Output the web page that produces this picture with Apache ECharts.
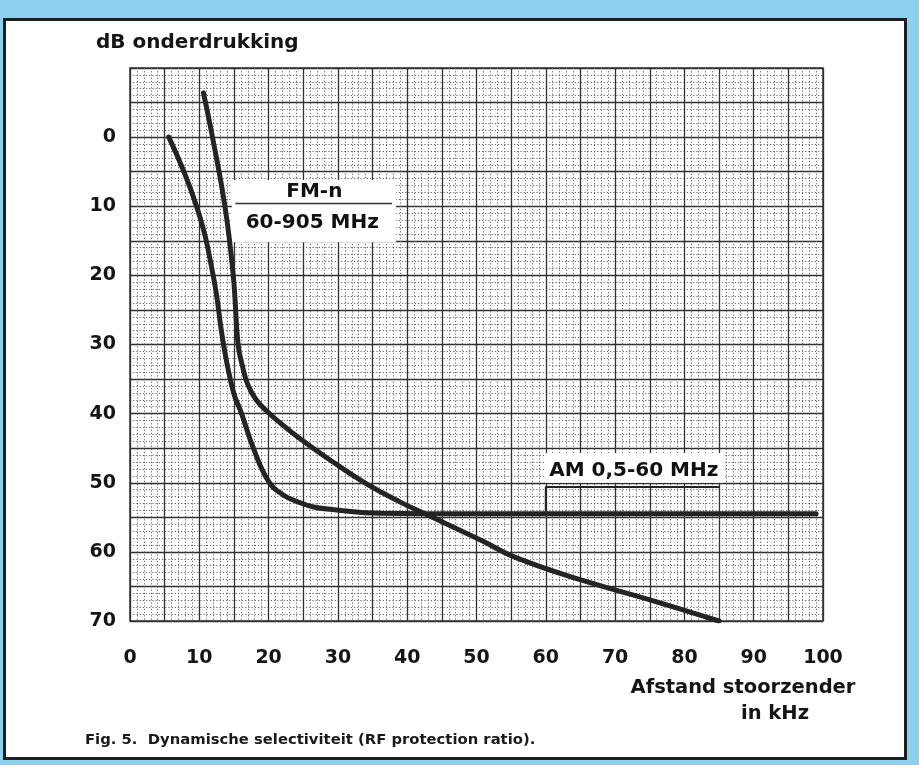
<!DOCTYPE html>
<html>
<head>
<meta charset="utf-8">
<script src="https://cdn.jsdelivr.net/npm/echarts@6/dist/echarts.min.js"></script>
<style>
  html, body { margin: 0; padding: 0; background: #8dd0ee; }
  #panel { position: absolute; left: 3px; top: 18px; width: 898px; height: 736px; background: #fff; border: 3px solid #1e1e1e; }
  #chart { position: absolute; left: 0; top: 0; width: 919px; height: 765px; }
</style>
</head>
<body>
<div id="panel"></div>
<div id="chart"></div>
<script>
// ---- data ----
const fmKHz = [10.6, 11.9, 13.7, 14.9, 15.6, 16.2, 17.0, 18.2, 19.8, 21.5, 24.5, 29.3, 34.2, 39.0, 42.8, 50.8, 55.6, 65.2, 74.9, 85.0];
const fmDb  = [-6.4, 0,    10,   20,   30,   33.0, 35.8, 38.0, 39.7, 41.2, 43.6, 47.0, 50.2, 52.8, 54.6, 58.4, 60.8, 64.1, 66.9, 70.0];
const amKHz = [5.6, 9.6, 12.0, 13.5, 14.9, 16.1, 17.8, 20.0, 22.0, 24.3, 26.5, 29.5, 36.0, 50.0, 70.0, 99.0];
const amDb  = [0,   10,  20,   30,   36.8, 40,   45,   49.8, 51.7, 52.8, 53.5, 53.9, 54.4, 54.5, 54.5, 54.5];
const xTickLabels = ['0','10','20','30','40','50','60','70','80','90','100'];
const yTickLabels = ['0','10','20','30','40','50','60','70'];
const fmLabels = ['FM-n', '60-905 MHz'];
const amLabel = 'AM 0,5-60 MHz';

// ---- annotation placement (data space) ----
const place = {
  fmBox: [[14.7, 6.2], [38.4, 15.2]],
  fmSep: [[15.2, 9.6], [37.8, 9.6]],
  fmText: [[26.6, 7.9], [26.3, 12.4]],
  amBox: [[59.9, 45.7], [85.6, 50.0]],
  amText: [72.7, 48.2],
  amLeader: [[60, 54.5], [60, 50.6], [85, 50.6]]
};

const FONT = '"DejaVu Sans", sans-serif';
const ink = '#242424';

const fmData = fmKHz.map((x, i) => [x, fmDb[i]]);
const amData = amKHz.map((x, i) => [x, amDb[i]]);

const chart = echarts.init(document.getElementById('chart'), null, { renderer: 'canvas' });

const gridLine = { show: true, lineStyle: { color: '#303030', width: 1.3 } };
const minorLine = { show: true, lineStyle: { color: '#666', width: 1, type: [1.2, 2] } };

chart.setOption({
  animation: false,
  backgroundColor: 'transparent',
  grid: { left: 130, right: 96, top: 68, bottom: 144, show: true, borderColor: '#333', borderWidth: 1.5 },
  xAxis: {
    type: 'value', min: 0, max: 100, interval: 5,
    axisLine: { show: false }, axisTick: { show: false },
    minorTick: { show: false, splitNumber: 5 },
    splitLine: gridLine, minorSplitLine: minorLine,
    axisLabel: {
      margin: 28, color: '#151515', fontSize: 19, fontWeight: 'bold', fontFamily: FONT,
      formatter: v => (v % 10 === 0 ? xTickLabels[v / 10] : '')
    }
  },
  yAxis: {
    type: 'value', min: -10, max: 70, interval: 5, inverse: true,
    axisLine: { show: false }, axisTick: { show: false },
    minorTick: { show: false, splitNumber: 5 },
    splitLine: gridLine, minorSplitLine: minorLine,
    axisLabel: {
      margin: 14, color: '#151515', fontSize: 19, fontWeight: 'bold', fontFamily: FONT,
      formatter: v => (v >= 0 && v % 10 === 0 ? yTickLabels[v / 10] : '')
    }
  },
  series: [
    {
      type: 'line', data: [], z: 1, silent: true,
      markArea: {
        silent: true,
        itemStyle: { color: '#ffffff', opacity: 1 },
        label: { show: false },
        data: [
          [{ coord: place.fmBox[0] }, { coord: place.fmBox[1] }],
          [{ coord: place.amBox[0] }, { coord: place.amBox[1] }]
        ]
      }
    },
    {
      type: 'line', data: place.fmSep, z: 2, silent: true, showSymbol: false,
      lineStyle: { color: '#333', width: 1.5 }
    },
    {
      type: 'line', data: place.amLeader, z: 2, silent: true, showSymbol: false,
      lineStyle: { color: ink, width: 2 }
    },
    {
      name: 'FM-n', type: 'line', data: fmData, z: 3, silent: true,
      smooth: 0.45, showSymbol: false,
      lineStyle: { color: ink, width: 5, cap: 'round', join: 'round' }
    },
    {
      name: 'AM', type: 'line', data: amData, z: 3, silent: true,
      smooth: 0.45, showSymbol: false,
      lineStyle: { color: ink, width: 5, cap: 'round', join: 'round' }
    },
    {
      type: 'scatter', z: 4, silent: true, symbolSize: 1,
      itemStyle: { color: '#ffffff', opacity: 1 },
      data: [
        [place.fmText[0][0], place.fmText[0][1], fmLabels[0]],
        [place.fmText[1][0], place.fmText[1][1], fmLabels[1]],
        [place.amText[0], place.amText[1], amLabel]
      ],
      label: {
        show: true, position: 'inside', formatter: p => p.data[2], opacity: 1,
        color: '#111111', textBorderWidth: 0, fontSize: 20, fontWeight: 'bold', fontFamily: FONT
      }
    }
  ],
  graphic: [
    { type: 'text', left: 96, top: 33, style: { text: 'dB onderdrukking', fill: '#151515', font: 'bold 20px ' + FONT } },
    { type: 'text', x: 743, y: 688, style: { text: 'Afstand stoorzender', fill: '#151515', font: 'bold 19.5px ' + FONT, textAlign: 'center', textVerticalAlign: 'middle' } },
    { type: 'text', x: 775, y: 714, style: { text: 'in kHz', fill: '#151515', font: 'bold 19.5px ' + FONT, textAlign: 'center', textVerticalAlign: 'middle' } },
    { type: 'text', x: 85, y: 740, style: { text: 'Fig. 5.  Dynamische selectiviteit (RF protection ratio).', fill: '#1a1a1a', font: 'bold 14.8px ' + FONT, textVerticalAlign: 'middle' } }
  ]
});
</script>
</body>
</html>
